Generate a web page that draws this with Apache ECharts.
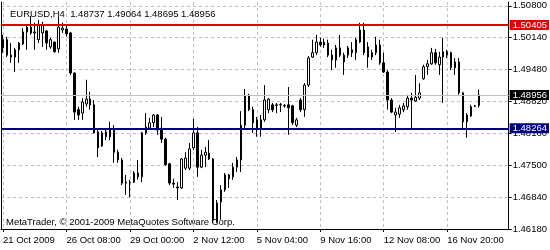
<!DOCTYPE html>
<html>
<head>
<meta charset="utf-8">
<script src="https://cdn.jsdelivr.net/npm/echarts@6/dist/echarts.min.js"></script>
<style>
html,body{margin:0;padding:0;background:#fff;}
#chart{width:550px;height:250px;}
</style>
</head>
<body>
<div id="chart"></div>
<script>
// ---- data (EURUSD, H4) ----
const symbolName = 'EURUSD,H4';
const tickLabels = ['21 Oct 2009', '26 Oct 08:00', '29 Oct 00:00', '2 Nov 12:00',
  '5 Nov 04:00', '9 Nov 16:00', '12 Nov 08:00', '16 Nov 20:00'];
const yTickStart = 1.4618;
const yTickStep = 0.0066;
const yMax = 1.5088;
const resistance = 1.50405;
const support = 1.48264;

const opens = [
  1.4993,1.5010,1.4978,1.4974,1.4989,1.5001,1.5026,1.5036,1.5024,1.5010,
  1.5024,1.5028,1.4995,1.5005,1.4991,1.5030,1.5032,1.5024,1.4941,1.4865,
  1.4858,1.4877,1.4887,1.4875,1.4819,1.4790,1.4809,1.4823,1.4825,1.4777,
  1.4761,1.4713,1.4715,1.4715,1.4726,1.4726,1.4817,1.4827,1.4838,1.4854,
  1.4827,1.4804,1.4753,1.4713,1.4705,1.4703,1.4744,1.4744,1.4786,1.4817,
  1.4746,1.4771,1.4775,1.4763,1.4632,1.4674,1.4699,1.4722,1.4726,1.4746,
  1.4761,1.4833,1.4894,1.4865,1.4844,1.4827,1.4844,1.4865,1.4875,1.4875,
  1.4875,1.4873,1.4875,1.4873,1.4833,1.4885,1.4865,1.4916,1.4974,1.4983,
  1.5005,1.4999,1.5003,1.4978,1.4968,1.4993,1.4964,1.4978,1.4989,1.4983,
  1.5005,1.5030,1.4995,1.4974,1.4983,1.4999,1.4962,1.4943,1.4885,1.4854,
  1.4856,1.4865,1.4871,1.4889,1.4883,1.4889,1.4929,1.4954,1.4960,1.4983,
  1.4958,1.4974,1.4985,1.4983,1.4964,1.4964,1.4900,1.4840,1.4852,1.4873,
  1.48737];
const closes = [
  1.5010,1.4978,1.4974,1.4989,1.5003,1.5026,1.5036,1.5024,1.5026,1.5041,
  1.5041,1.5003,1.5010,1.4985,1.5036,1.5034,1.5022,1.4941,1.4860,1.4854,
  1.4881,1.4887,1.4875,1.4817,1.4786,1.4817,1.4819,1.4809,1.4777,1.4761,
  1.4713,1.4715,1.4714,1.4734,1.4734,1.4817,1.4829,1.4838,1.4854,1.4823,
  1.4804,1.4751,1.4713,1.4711,1.4703,1.4763,1.4765,1.4784,1.4817,1.4746,
  1.4771,1.4777,1.4763,1.4637,1.4672,1.4699,1.4730,1.4730,1.4746,1.4761,
  1.4833,1.4894,1.4865,1.4838,1.4827,1.4844,1.4885,1.4887,1.4865,1.4874,
  1.4876,1.4874,1.4869,1.4838,1.4844,1.4865,1.4916,1.4972,1.4983,1.5005,
  1.4999,1.5005,1.4978,1.4968,1.4993,1.4978,1.4978,1.4993,1.4983,1.5010,
  1.5030,1.4983,1.4974,1.4983,1.4999,1.4962,1.4943,1.4885,1.4860,1.4860,
  1.4869,1.4873,1.4889,1.4885,1.4891,1.4900,1.4954,1.4960,1.4983,1.4962,
  1.4974,1.4985,1.4978,1.4952,1.4952,1.4900,1.4840,1.4854,1.4871,1.4872,
  1.48956];
const lows = [
  1.4983,1.4974,1.4962,1.4943,1.4962,1.4999,1.4989,1.5020,1.4989,1.5003,
  1.4995,1.4989,1.4991,1.4983,1.4983,1.5024,1.5016,1.4937,1.4844,1.4844,
  1.4844,1.4871,1.4865,1.4816,1.4767,1.4788,1.4802,1.4802,1.4755,1.4755,
  1.4709,1.4689,1.4684,1.4713,1.4720,1.4715,1.4813,1.4823,1.4829,1.4813,
  1.4796,1.4749,1.4709,1.4703,1.4678,1.4701,1.4740,1.4740,1.4782,1.4726,
  1.4744,1.4746,1.4761,1.4630,1.4630,1.4637,1.4695,1.4703,1.4720,1.4736,
  1.4736,1.4823,1.4862,1.4817,1.4809,1.4809,1.4840,1.4858,1.4860,1.4858,
  1.4860,1.4869,1.4813,1.4833,1.4829,1.4860,1.4850,1.4912,1.4972,1.4978,
  1.4995,1.4993,1.4974,1.4947,1.4952,1.4974,1.4937,1.4972,1.4974,1.4968,
  1.5003,1.4978,1.4952,1.4968,1.4978,1.4958,1.4941,1.4865,1.4858,1.4819,
  1.4848,1.4860,1.4865,1.4823,1.4881,1.4885,1.4927,1.4937,1.4958,1.4958,
  1.4937,1.4879,1.4972,1.4947,1.4937,1.4896,1.4823,1.4807,1.4850,1.4871,
  1.48695];
const highs = [
  1.5020,1.5016,1.5003,1.4993,1.5005,1.5034,1.5041,1.5059,1.5045,1.5051,
  1.5047,1.5030,1.5014,1.5006,1.5057,1.5045,1.5041,1.5026,1.4942,1.4871,
  1.4889,1.4927,1.4902,1.4885,1.4827,1.4821,1.4827,1.4840,1.4833,1.4782,
  1.4765,1.4730,1.4720,1.4738,1.4761,1.4819,1.4858,1.4848,1.4856,1.4856,
  1.4850,1.4807,1.4755,1.4722,1.4715,1.4765,1.4777,1.4796,1.4846,1.4829,
  1.4782,1.4788,1.4802,1.4765,1.4678,1.4709,1.4734,1.4732,1.4755,1.4767,
  1.4862,1.4908,1.4898,1.4871,1.4850,1.4854,1.4916,1.4889,1.4879,1.4879,
  1.4879,1.4877,1.4912,1.4875,1.4848,1.4889,1.4920,1.4976,1.5010,1.5020,
  1.5014,1.5012,1.5010,1.4989,1.4999,1.5020,1.4983,1.4997,1.5005,1.5014,
  1.5045,1.5045,1.5005,1.4989,1.5016,1.5010,1.4983,1.4947,1.4889,1.4869,
  1.4875,1.4879,1.4896,1.4900,1.4937,1.4920,1.4958,1.4968,1.4993,1.4991,
  1.4985,1.5014,1.4989,1.4985,1.4972,1.4972,1.4902,1.4858,1.4875,1.4875,
  1.49064];

// ---- H4 bar times (axis categories), weekend gap, Sunday 20:00 bar ----
const months = ['Jan','Feb','Mar','Apr','May','Jun','Jul','Aug','Sep','Oct','Nov','Dec'];
const categories = [];
let t = Date.UTC(2009, 9, 21, 20);
while (categories.length < 128) {
  const d = new Date(t);
  const wd = d.getUTCDay(), h = d.getUTCHours();
  if (!(wd === 6 || (wd === 0 && h < 20))) {
    categories.push(d.getUTCDate() + ' ' + months[d.getUTCMonth()] + ' ' +
      String(h).padStart(2, '0') + ':00');
  }
  t += 4 * 3600 * 1000;
}

const ohlc = opens.map((o, i) => [o, closes[i], lows[i], highs[i]]);
const last = opens.length - 1;
const bid = closes[last];
const titleText = symbolName + '  ' + opens[last].toFixed(5) + ' ' + highs[last].toFixed(5) +
  ' ' + lows[last].toFixed(5) + ' ' + closes[last].toFixed(5);

const FONT = '"Liberation Sans", Arial, sans-serif';
const FS = 9.5;
const gridDash = { color: '#c0c0c0', width: 1, type: [3, 3] };

const chart = echarts.init(document.getElementById('chart'), null, { renderer: 'canvas' });
chart.setOption({
  animation: false,
  backgroundColor: '#ffffff',
  textStyle: { fontFamily: FONT },
  title: {
    text: titleText,
    left: 5, top: 4,
    textStyle: { fontFamily: FONT, fontSize: FS, fontWeight: 'normal', color: '#000', lineHeight: 11 }
  },
  graphic: [{
    type: 'text', left: 6, top: 217, silent: true,
    style: { text: 'MetaTrader, \u00a9 2001-2009 MetaQuotes Software Corp.', fontFamily: FONT, fontSize: FS, fill: '#000' }
  }],
  grid: { left: 1, right: 39, top: 2, bottom: 21, containLabel: false },
  xAxis: {
    type: 'category',
    data: categories,
    boundaryGap: true,
    axisLine: { show: true, lineStyle: { color: '#000', width: 1 } },
    axisTick: { show: true, interval: 15, alignWithLabel: true, length: 3, inside: false, lineStyle: { color: '#000' } },
    axisLabel: {
      interval: 15, align: 'left', margin: 6, color: '#000', fontFamily: FONT, fontSize: FS,
      formatter: (v, i) => (i % 16 === 0 && tickLabels[i / 16]) ? tickLabels[i / 16] : ''
    },
    splitLine: { show: true, interval: 15, alignWithLabel: true, lineStyle: gridDash }
  },
  yAxis: [{
    type: 'value',
    position: 'right',
    min: yTickStart, max: yMax, interval: yTickStep,
    scale: true,
    axisLine: { show: true, lineStyle: { color: '#000', width: 1 } },
    axisTick: { show: true, length: 3, inside: false, lineStyle: { color: '#000' } },
    axisLabel: {
      margin: 4, color: '#000', fontFamily: FONT, fontSize: FS, showMaxLabel: false,
      formatter: v => v.toFixed(5)
    },
    splitLine: { show: true, showMaxLine: false, lineStyle: gridDash }
  }, {
    type: 'value',
    position: 'left',
    min: yTickStart, max: yMax,
    axisLine: { show: true, lineStyle: { color: '#000', width: 1 } },
    axisTick: { show: false }, axisLabel: { show: false }, splitLine: { show: false }
  }],
  series: [{
    type: 'candlestick',
    yAxisIndex: 0,
    data: ohlc,
    barWidth: 2,
    itemStyle: {
      color: '#ffffff', color0: '#000000',
      borderColor: '#000000', borderColor0: '#000000', borderWidth: 1
    },
    markLine: {
      silent: true,
      symbol: ['none', 'none'],
      precision: 5,
      data: [
        { yAxis: bid, lineStyle: { color: '#c0c0c0', width: 1, type: 'solid' },
          label: { show: true, position: 'end', distance: 1, formatter: bid.toFixed(5),
            color: '#fff', backgroundColor: '#000000', padding: [0, 2, 0, 3],
            fontFamily: FONT, fontSize: FS, lineHeight: 10 } },
        { yAxis: resistance, lineStyle: { color: '#e00000', width: 2, type: 'solid' },
          label: { show: true, position: 'end', distance: 1, formatter: resistance.toFixed(5),
            color: '#fff', backgroundColor: '#e00000', padding: [0, 2, 0, 3],
            fontFamily: FONT, fontSize: FS, lineHeight: 10 } },
        { yAxis: support, lineStyle: { color: '#000080', width: 2, type: 'solid' },
          label: { show: true, position: 'end', distance: 1, formatter: support.toFixed(5),
            color: '#fff', backgroundColor: '#000080', padding: [0, 2, 0, 3],
            fontFamily: FONT, fontSize: FS, lineHeight: 10 } }
      ]
    }
  }]
});
</script>
</body>
</html>
